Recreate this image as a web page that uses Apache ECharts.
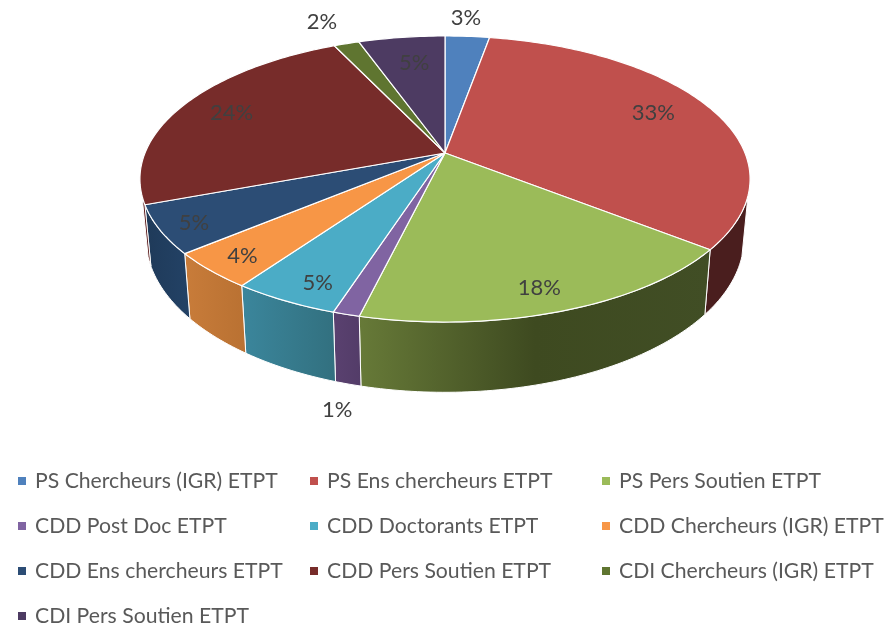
<!DOCTYPE html>
<html>
<head>
<meta charset="utf-8">
<title>ETPT</title>
<script src="https://cdn.jsdelivr.net/npm/echarts@6/dist/echarts.min.js"></script>
<style>
html, body, #main { margin: 0; padding: 0; width: 891px; height: 631px; background: #fff; overflow: hidden; }
</style>
</head>
<body>
<div id="main"></div>
<script>
const categories = [
  'PS Chercheurs (IGR) ETPT', 'PS Ens chercheurs ETPT', 'PS Pers Soutien ETPT',
  'CDD Post Doc ETPT', 'CDD Doctorants ETPT', 'CDD Chercheurs (IGR) ETPT',
  'CDD Ens chercheurs ETPT', 'CDD Pers Soutien ETPT', 'CDI Chercheurs (IGR) ETPT',
  'CDI Pers Soutien ETPT'
]
// in percent
const values = [2.8, 32.8, 18.1, 1.2, 4.8, 4.1, 5.4, 23.6, 1.6, 5.45]

const topColors = ['#4f81bd', '#c0504d', '#9bbb59', '#8064a2', '#4bacc6', '#f79646', '#2c4d75', '#772c2a', '#5f7530', '#4d3b62']
const wallColors = [
  ['#2f4d71', '#2f4d71'], ['#4a1e1e', '#4a1e1e'], ['#677a38', '#3e4a20', '#414e25'],
  ['#5a4170', '#533c68'], ['#3b869c', '#32707f'], ['#c87c3a', '#b97132'],
  ['#1f3a59', '#234266'], ['#5a1a1a', '#5a1a1a'], ['#394619', '#394619'], ['#2e2339', '#2e2339']
]
// label place along the slice's middle radius, plus a nudge in px
const labelRadius = [1.19, 0.78, 0.88, 1, 0.81, 0.88, 0.89, 0.81, 1.24, 0.75]
const labelNudge = [[-5, 0], [0, -4], [-7, -1], [-9, 96], [-2, 15], [0, 1], [0, 2], [0, 0], [-5, 0], [3, 0]]

// fake perspective of the tilted disc
const hubX = 445, hubY = 153
const radiusX = 300, radiusY = 138.3, tilt = 0.1818
const depth = 57.5, floorScale = 0.98
const wallFrom = 107, wallTo = 253

const total = values.reduce((a, b) => a + b, 0)

function project(f, deg) {
  const t = deg * Math.PI / 180
  const w = 1 + tilt * f * Math.cos(t)
  return [hubX + radiusX * f * Math.sin(t) / w, hubY - radiusY * f * Math.cos(t) / w]
}
function projectFloor(deg) {
  const t = deg * Math.PI / 180
  const w = 1 + tilt * Math.cos(t)
  const p = project(1, deg)
  return [hubX + (p[0] - hubX) * floorScale, p[1] + depth / w]
}
function arc(from, to, fn) {
  const pts = []
  for (let d = from; d < to; d += 1) pts.push(fn(d))
  pts.push(fn(to))
  return pts
}

function renderSlice(idx) {
  const start = values.slice(0, idx).reduce((a, b) => a + b, 0) / total * 360
  const end = start + values[idx] / total * 360
  const mid = (start + end) / 2
  const children = []

  const a = Math.max(start, wallFrom), b = Math.min(end, wallTo)
  if (a < b) {
    const stops = wallColors[idx].map((c, i, all) => ({ offset: i / (all.length - 1), color: c }))
    children.push({
      type: 'polygon',
      shape: { points: arc(a, b, d => project(1, d)).concat(arc(a, b, projectFloor).reverse()) },
      style: { fill: { type: 'linear', x: 0, y: 0, x2: 1, y2: 0, colorStops: stops }, stroke: '#fff', lineWidth: 1, lineJoin: 'round' }
    })
  }
  children.push({
    type: 'polygon',
    shape: { points: [[hubX, hubY]].concat(arc(start, end, d => project(1, d))) },
    style: { fill: topColors[idx], stroke: '#fff', lineWidth: 1.2, lineJoin: 'round' }
  })
  const lp = project(labelRadius[idx], mid)
  children.push({
    type: 'text',
    z2: 10,
    style: {
      x: lp[0] + labelNudge[idx][0],
      y: lp[1] + labelNudge[idx][1],
      text: Math.round(values[idx]) + '%',
      fill: '#404040',
      font: '22px Lato',
      align: 'center',
      verticalAlign: 'middle'
    }
  })
  return { type: 'group', children }
}

function legendColumn(left, names) {
  return {
    orient: 'vertical',
    left: left,
    top: 469,
    padding: 0,
    icon: 'rect',
    itemWidth: 8,
    itemHeight: 8,
    itemGap: 21,
    selectedMode: false,
    data: names,
    textStyle: { color: '#595959', fontFamily: 'Lato', fontSize: 21.2, lineHeight: 24, padding: [0, 0, 0, 4] }
  }
}

const chart = echarts.init(document.getElementById('main'), null, { renderer: 'canvas' })
chart.setOption({
  animation: false,
  backgroundColor: '#fff',
  legend: [
    legendColumn(18, [categories[0], categories[3], categories[6], categories[9]]),
    legendColumn(310, [categories[1], categories[4], categories[7]]),
    legendColumn(602, [categories[2], categories[5], categories[8]])
  ],
  series: categories.map((name, idx) => ({
    type: 'custom',
    name: name,
    coordinateSystem: 'none',
    silent: true,
    itemStyle: { color: topColors[idx] },
    data: [values[idx]],
    renderItem: () => renderSlice(idx)
  }))
})
</script>
</body>
</html>
